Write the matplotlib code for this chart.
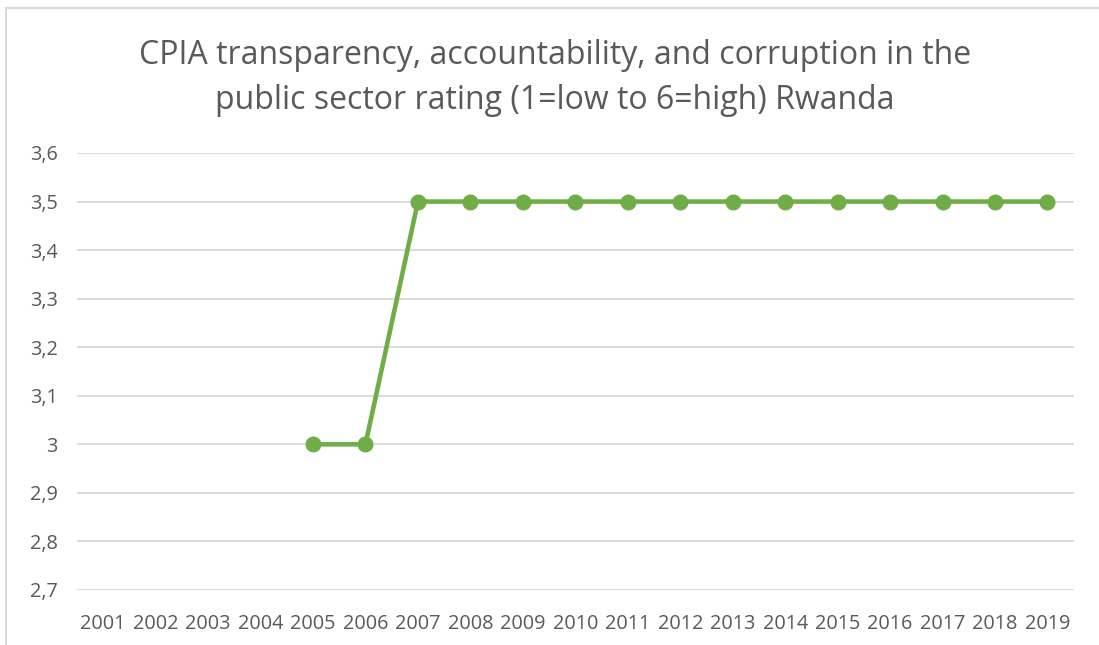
import matplotlib.pyplot as plt
import matplotlib.patches as patches
import numpy as np

# datos del grafico
years = [str(y) for y in range(2001, 2020)]
rating = [np.nan, np.nan, np.nan, np.nan, 3.0, 3.0, 3.5, 3.5, 3.5, 3.5,
          3.5, 3.5, 3.5, 3.5, 3.5, 3.5, 3.5, 3.5, 3.5]
y_ticks = [2.7, 2.8, 2.9, 3.0, 3.1, 3.2, 3.3, 3.4, 3.5, 3.6]
y_labels = ["2,7", "2,8", "2,9", "3", "3,1", "3,2", "3,3", "3,4", "3,5", "3,6"]
titulo = "CPIA transparency, accountability, and corruption in the\npublic sector rating (1=low to 6=high) Rwanda"

plt.rcParams['font.family'] = ['Open Sans', 'DejaVu Sans']

fig = plt.figure(figsize=(10.99, 6.45), dpi=100)
ax = fig.add_axes([0.070, 0.0853, 0.907, 0.6775])

# borde del area del grafico
W, H = 1099, 645
fig.patches.append(patches.Rectangle((6 / W, -0.1), 1.2, (H - 8) / H + 0.1,
                                     transform=fig.transFigure, fill=False,
                                     edgecolor='#D9D9D9', linewidth=1.5))

x = np.arange(len(years))
ax.plot(x, rating, color='#70AD47', linewidth=3.3, marker='o',
        markersize=10.5, zorder=3)

ax.set_xlim(-0.5, len(years) - 0.5)
ax.set_ylim(2.7, 3.6)
ax.set_yticks(y_ticks)
ax.set_yticklabels(y_labels)
ax.set_xticks(x)
ax.set_xticklabels(years)
ax.grid(axis='y', color='#D9D9D9', linewidth=1.3)
ax.set_axisbelow(True)
for s in ax.spines.values():
    s.set_visible(False)
ax.tick_params(axis='both', length=0, labelsize=14.3, labelcolor='#595959')
ax.tick_params(axis='y', pad=14)
ax.tick_params(axis='x', pad=17)

fig.text(0.505, 0.879, titulo, ha='center', va='center', fontsize=23,
         color='#595959', linespacing=1.5)

plt.savefig('out.png', dpi=100)
